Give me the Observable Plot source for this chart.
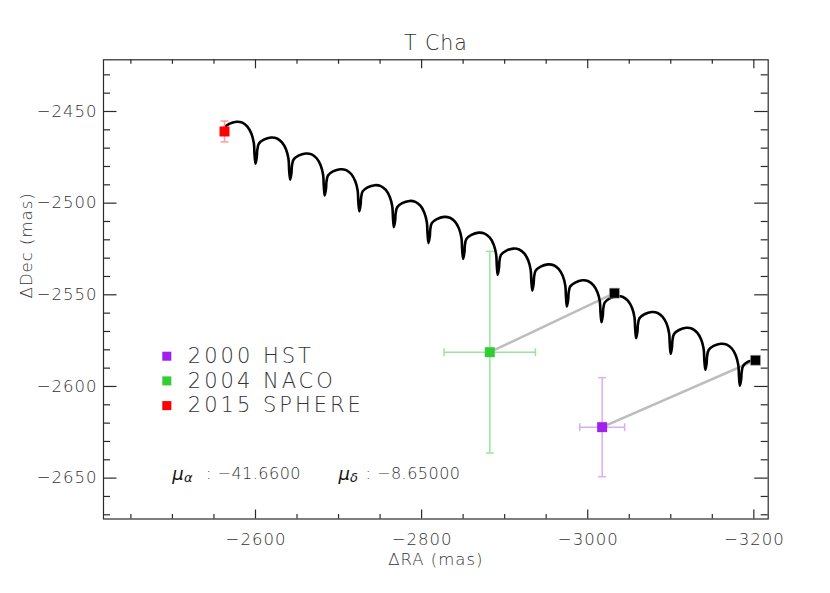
<!DOCTYPE html>
<html><head><meta charset="utf-8">
<script src="https://cdn.jsdelivr.net/npm/d3@7"></script>
<script src="https://cdn.jsdelivr.net/npm/@observablehq/plot@0.6"></script>
<style>html,body{margin:0;padding:0;background:#fff;} #chart svg{display:block}</style>
</head><body><div id="chart"></div>
<script>
// ---------- data ----------
const title = "T Cha";
const xLabel = "\u0394RA (mas)";
const yLabel = "\u0394Dec (mas)";
const xTicks = [-2600, -2800, -3000, -3200];
const xMinor = [-2450, -2500, -2550, -2650, -2700, -2750, -2850, -2900, -2950, -3050, -3100, -3150];
const yTicks = [-2450, -2500, -2550, -2600, -2650];
const yMinor = [-2430, -2440, -2460, -2470, -2480, -2490, -2510, -2520, -2530, -2540, -2560, -2570, -2580, -2590, -2610, -2620, -2630, -2640, -2660, -2670];

// background-star track, one row per yearly arch
const trackRA = [
  -2559.5, -2562.3, -2568.3, -2577.0, -2584.2, -2590.2, -2595.0, -2598.0, -2598.8,
  -2600.0, -2601.6, -2602.1, -2604.0, -2610.0, -2618.7, -2625.9, -2631.9, -2636.7, -2639.7, -2640.5,
  -2641.7, -2643.3, -2643.8, -2645.7, -2651.7, -2660.4, -2667.6, -2673.6, -2678.4, -2681.4, -2682.2,
  -2683.3, -2684.9, -2685.4, -2687.3, -2693.3, -2702.0, -2709.2, -2715.2, -2720.0, -2723.0, -2723.8,
  -2725.0, -2726.6, -2727.1, -2729.0, -2735.0, -2743.7, -2750.9, -2756.9, -2761.7, -2764.7, -2765.5,
  -2766.6, -2768.2, -2768.7, -2770.6, -2776.6, -2785.3, -2792.5, -2798.5, -2803.3, -2806.3, -2807.1,
  -2808.3, -2809.9, -2810.4, -2812.3, -2818.3, -2827.0, -2834.2, -2840.2, -2845.0, -2848.0, -2848.8,
  -2850.0, -2851.6, -2852.1, -2854.0, -2860.0, -2868.7, -2875.9, -2881.9, -2886.7, -2889.7, -2890.5,
  -2891.6, -2893.2, -2893.7, -2895.6, -2901.6, -2910.3, -2917.5, -2923.5, -2928.3, -2931.3, -2932.1,
  -2933.3, -2934.9, -2935.4, -2937.3, -2943.3, -2952.0, -2959.2, -2965.2, -2970.0, -2973.0, -2973.8,
  -2974.9, -2976.5, -2977.0, -2978.9, -2984.9, -2993.6, -3000.8, -3006.8, -3011.6, -3014.6, -3015.4,
  -3016.6, -3018.2, -3018.7, -3020.6, -3026.6, -3035.3, -3042.5, -3048.5, -3053.3, -3056.3, -3057.1,
  -3058.3, -3059.9, -3060.4, -3062.3, -3068.3, -3077.0, -3084.2, -3090.2, -3095.0, -3098.0, -3098.8,
  -3099.9, -3101.5, -3102.0, -3103.9, -3109.9, -3118.6, -3125.8, -3131.8, -3136.6, -3139.6, -3140.4,
  -3141.6, -3143.2, -3143.7, -3145.6, -3151.6, -3160.3, -3167.5, -3173.5, -3178.3, -3181.3, -3182.1,
  -3183.2, -3184.8, -3185.3, -3187.2, -3193.2, -3201.9
];
const trackDec = [
  -2462.6, -2459.0, -2456.8, -2455.6, -2456.1, -2458.2, -2462.0, -2467.2, -2473.2,
  -2478.5, -2474.7, -2471.2, -2467.6, -2465.4, -2464.2, -2464.7, -2466.8, -2470.6, -2475.8, -2481.8,
  -2487.2, -2483.4, -2479.9, -2476.3, -2474.1, -2472.9, -2473.4, -2475.5, -2479.3, -2484.5, -2490.5,
  -2495.8, -2492.0, -2488.5, -2484.9, -2482.7, -2481.5, -2482.0, -2484.1, -2487.9, -2493.1, -2499.1,
  -2504.5, -2500.7, -2497.2, -2493.6, -2491.4, -2490.2, -2490.7, -2492.8, -2496.6, -2501.8, -2507.8,
  -2513.1, -2509.3, -2505.8, -2502.2, -2500.0, -2498.8, -2499.3, -2501.4, -2505.2, -2510.4, -2516.4,
  -2521.8, -2518.0, -2514.5, -2510.9, -2508.7, -2507.5, -2508.0, -2510.1, -2513.9, -2519.1, -2525.1,
  -2530.4, -2526.6, -2523.1, -2519.5, -2517.3, -2516.1, -2516.6, -2518.7, -2522.5, -2527.7, -2533.7,
  -2539.1, -2535.3, -2531.8, -2528.2, -2526.0, -2524.8, -2525.3, -2527.4, -2531.2, -2536.4, -2542.4,
  -2547.7, -2543.9, -2540.4, -2536.8, -2534.6, -2533.4, -2533.9, -2536.0, -2539.8, -2545.0, -2551.0,
  -2556.4, -2552.6, -2549.1, -2545.5, -2543.3, -2542.1, -2542.6, -2544.7, -2548.5, -2553.7, -2559.7,
  -2565.0, -2561.2, -2557.7, -2554.1, -2551.9, -2550.7, -2551.2, -2553.3, -2557.1, -2562.3, -2568.3,
  -2573.7, -2569.9, -2566.4, -2562.8, -2560.6, -2559.4, -2559.9, -2562.0, -2565.8, -2571.0, -2577.0,
  -2582.3, -2578.5, -2575.0, -2571.4, -2569.2, -2568.0, -2568.5, -2570.6, -2574.4, -2579.6, -2585.6,
  -2591.0, -2587.2, -2583.7, -2580.1, -2577.9, -2576.7, -2577.2, -2579.3, -2583.1, -2588.3, -2594.3,
  -2599.6, -2595.8, -2592.3, -2588.7, -2586.5, -2585.3
];

// observations
const obsLabel = ["2000 HST", "2004 NACO", "2015 SPHERE"];
const obsRA = [-3017.4, -2882.1, -2562.7];
const obsDec = [-2622.2, -2581.3, -2460.9];
const obsErrRA = [27, 55, 3];
const obsErrDec = [27, 55, 5.7];
// predicted background positions at the 2000 and 2004 epochs
const predRA = [-3202.0, -3032.2];
const predDec = [-2585.7, -2549.1];
// proper motion text
const muAlpha = "-41.6600";
const muDelta = "-8.65000";

// ---------- styles ----------
const obsColor = ["#a020f0", "#32cd32", "#ff0000"];
const errColor = ["#d7aef8", "#9ce49c", "#ff9a9a"];
const FONT = "'DejaVu Sans', sans-serif";
const W = 830, H = 593, mL = 103, mR = 62.3, mT = 59.3, mB = 74.5;
const innerW = W - mL - mR, innerH = H - mT - mB;
const minus = s => String(s).replace("-", "\u2212");
const ls = v => "ls:" + v;   // letter-spacing tag applied after render

const hCap = {draw(ctx, size) { const r = Math.sqrt(size / Math.PI); ctx.moveTo(-r, 0); ctx.lineTo(r, 0); }};
const vCap = {draw(ctx, size) { const r = Math.sqrt(size / Math.PI); ctx.moveTo(0, -r); ctx.lineTo(0, r); }};

const idx = obsLabel.map((_, i) => i);
const predIdx = predRA.map((_, i) => i);
const track = trackRA.map((x, i) => ({x, y: trackDec[i]}));
const axisColor = "#2a2a2a";
const textColor = "#333";

const chart = Plot.plot({
  width: W, height: H,
  marginLeft: mL, marginRight: mR, marginTop: mT, marginBottom: mB,
  x: {domain: [-2417, -3217.3], axis: null},
  y: {domain: [-2672.3, -2421.8], axis: null},
  color: {type: "identity"},
  style: {fontFamily: FONT, background: "#fff", color: textColor},
  marks: [
    Plot.frame({stroke: axisColor, strokeWidth: 1.2}),
    // x ticks bottom & top
    Plot.ruleX(xTicks, {x: d => d, insetTop: innerH - 9, stroke: axisColor, strokeWidth: 1.2}),
    Plot.ruleX(xMinor, {x: d => d, insetTop: innerH - 4.5, stroke: axisColor, strokeWidth: 1.2}),
    Plot.ruleX(xTicks, {x: d => d, insetBottom: innerH - 9, stroke: axisColor, strokeWidth: 1.2}),
    Plot.ruleX(xMinor, {x: d => d, insetBottom: innerH - 4.5, stroke: axisColor, strokeWidth: 1.2}),
    // y ticks left & right
    Plot.ruleY(yTicks, {y: d => d, insetRight: innerW - 13.5, stroke: axisColor, strokeWidth: 1.2}),
    Plot.ruleY(yMinor, {y: d => d, insetRight: innerW - 7, stroke: axisColor, strokeWidth: 1.2}),
    Plot.ruleY(yTicks, {y: d => d, insetLeft: innerW - 13.5, stroke: axisColor, strokeWidth: 1.2}),
    Plot.ruleY(yMinor, {y: d => d, insetLeft: innerW - 7, stroke: axisColor, strokeWidth: 1.2}),
    // tick labels
    Plot.text(xTicks, {x: d => d, text: d => minus(d), frameAnchor: "bottom", dy: 20.7, dx: 0.5, lineAnchor: "middle", fontSize: 16.5, fontWeight: 200, fill: textColor, ariaDescription: ls(1)}),
    Plot.text(yTicks, {y: d => d, text: d => minus(d), frameAnchor: "left", dx: -6, textAnchor: "end", lineAnchor: "middle", fontSize: 16.5, fontWeight: 200, fill: textColor, ariaDescription: ls(1)}),
    // titles
    Plot.text([title], {text: d => d, frameAnchor: "top", dy: -16.6, lineAnchor: "middle", fontSize: 20.5, fontWeight: 200, fill: textColor, ariaDescription: ls(1)}),
    Plot.text([xLabel], {text: d => d, frameAnchor: "bottom", dy: 40.7, lineAnchor: "middle", fontSize: 16.5, fontWeight: 200, fill: textColor, ariaDescription: ls(1)}),
    Plot.text([yLabel], {text: d => d, frameAnchor: "left", dx: -77, dy: 9, rotate: -90, lineAnchor: "middle", fontSize: 16.5, fontWeight: 200, fill: textColor, ariaDescription: ls(1)}),
    // links obs -> predicted
    Plot.link(predIdx, {x1: i => obsRA[i], y1: i => obsDec[i], x2: i => predRA[i], y2: i => predDec[i], stroke: "#bdbdbd", strokeWidth: 2.5}),
    // track
    Plot.line(track, {x: "x", y: "y", curve: "catmull-rom", stroke: "#000", strokeWidth: 2.6, strokeLinejoin: "round", strokeLinecap: "round"}),
    // error bars
    Plot.ruleX(idx, {x: i => obsRA[i], y1: i => obsDec[i] - obsErrDec[i], y2: i => obsDec[i] + obsErrDec[i], stroke: i => errColor[i], strokeWidth: 1.5}),
    Plot.ruleY(idx, {y: i => obsDec[i], x1: i => obsRA[i] - obsErrRA[i], x2: i => obsRA[i] + obsErrRA[i], stroke: i => errColor[i], strokeWidth: 1.5}),
    Plot.dot(idx, {x: i => obsRA[i], y: i => obsDec[i] - obsErrDec[i], symbol: hCap, r: 4, stroke: i => errColor[i], strokeWidth: 1.5}),
    Plot.dot(idx, {x: i => obsRA[i], y: i => obsDec[i] + obsErrDec[i], symbol: hCap, r: 4, stroke: i => errColor[i], strokeWidth: 1.5}),
    Plot.dot(idx, {x: i => obsRA[i] - obsErrRA[i], y: i => obsDec[i], symbol: vCap, r: 4, stroke: i => errColor[i], strokeWidth: 1.5}),
    Plot.dot(idx, {x: i => obsRA[i] + obsErrRA[i], y: i => obsDec[i], symbol: vCap, r: 4, stroke: i => errColor[i], strokeWidth: 1.5}),
    // squares
    Plot.dot(predIdx, {x: i => predRA[i], y: i => predDec[i], symbol: "square", r: 5.64, fill: "#000", stroke: "#aaa", strokeWidth: 0.6}),
    Plot.dot(idx, {x: i => obsRA[i], y: i => obsDec[i], symbol: "square", r: 5.64, fill: i => obsColor[i]}),
    // legend
    ...idx.map(i => Plot.dot([i], {frameAnchor: "top-left", dx: 63.3, dy: 296.4 + i * 24.7, symbol: "square", r: 5.1, fill: obsColor[i]})),
    ...idx.map(i => Plot.text([obsLabel[i]], {text: d => d, frameAnchor: "top-left", dx: 84.3, dy: 296.4 + i * 24.7, textAnchor: "start", lineAnchor: "middle", fontSize: 21, fontWeight: 200, fill: textColor, ariaDescription: ls(3)})),
    // proper motion annotation
    Plot.text(["\u03bc"], {text: d => d, frameAnchor: "bottom-left", dx: 68.7, dy: -45, textAnchor: "start", lineAnchor: "middle", fontSize: 18, fontWeight: 200, fontStyle: "italic", fill: "#111"}),
    Plot.text(["\u03b1"], {text: d => d, frameAnchor: "bottom-left", dx: 80.5, dy: -41, textAnchor: "start", lineAnchor: "middle", fontSize: 13, fontWeight: 200, fontStyle: "italic", fill: "#111"}),
    Plot.text([": " + minus(muAlpha)], {text: d => d, frameAnchor: "bottom-left", dx: 102.5, dy: -45, textAnchor: "start", lineAnchor: "middle", fontSize: 16, fontWeight: 200, fill: textColor, ariaDescription: ls(0.5)}),
    Plot.text(["\u03bc"], {text: d => d, frameAnchor: "bottom-left", dx: 235, dy: -45, textAnchor: "start", lineAnchor: "middle", fontSize: 18, fontWeight: 200, fontStyle: "italic", fill: "#111"}),
    Plot.text(["\u03b4"], {text: d => d, frameAnchor: "bottom-left", dx: 246.5, dy: -41, textAnchor: "start", lineAnchor: "middle", fontSize: 13, fontWeight: 200, fontStyle: "italic", fill: "#111"}),
    Plot.text([": " + minus(muDelta)], {text: d => d, frameAnchor: "bottom-left", dx: 262, dy: -45, textAnchor: "start", lineAnchor: "middle", fontSize: 16, fontWeight: 200, fill: textColor, ariaDescription: ls(0.5)})
  ]
});
d3.select(chart).selectAll("g[aria-description^='ls:']").each(function() {
  const v = this.getAttribute("aria-description").slice(3);
  this.style.letterSpacing = v + "px";
});
document.getElementById("chart").appendChild(chart);
</script>
</body></html>
